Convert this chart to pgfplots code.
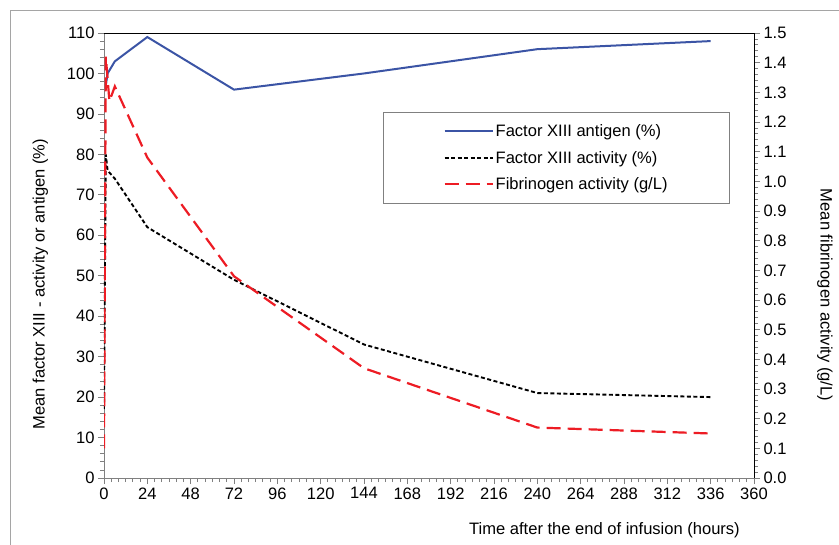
\documentclass[border=0pt]{standalone}
\usepackage{fontspec}
\setmainfont{Liberation Sans}
\usepackage{pgfplots}
\pgfplotsset{compat=1.18}
\usetikzlibrary{calc}

\definecolor{fxblue}{RGB}{59,84,165}
\definecolor{fibred}{RGB}{237,28,36}
\definecolor{axgray}{RGB}{128,128,128}
\definecolor{framegray}{RGB}{165,165,165}

% mean values
\pgfplotstableread{
t    antigen
1    97
2    100
6    103
24   109
72   96
144  100
240  106
336  108
}\antigen

\pgfplotstableread{
t    activity
0    17
1    80
2    76
6    74
24   62
72   49
144  33
240  21
336  20
}\activity

\pgfplotstableread{
t    fib
0    0.10
1    1.42
3    1.27
6    1.32
24   1.08
72   0.68
144  0.37
240  0.17
336  0.15
}\fibrinogen

\begin{document}
\begin{tikzpicture}[font=\fontsize{16.6}{19}\selectfont]
\pgfplotsset{
  common/.style={
    scale only axis, width=650bp, height=445bp,
    at={(0,0)}, anchor=south west,
    xmin=0, xmax=360,
    tick align=outside,
    major tick length=6bp, minor tick length=4bp,
    every tick/.style={axgray, line width=0.8bp},
    /pgf/number format/assume math mode=true,
    tick label style={font=\fontsize{16.6}{19}\selectfont},
    label style={font=\fontsize{16.6}{19}\selectfont},
  },
}
\begin{axis}[common, name=ax,
  ymin=0, ymax=110, ytick={0,10,...,110}, minor y tick num=4,
  xtick={0,24,...,360}, minor x tick num=5,
  xtick pos=bottom, ytick pos=left,
  axis line style={axgray, line width=0.8bp},
  xlabel={Time after the end of infusion (hours)},
  xlabel style={at={(axis description cs:0.77,-0.117)}, anchor=center},
  ylabel={Mean factor XIII - activity or antigen (\%)},
  ylabel style={at={(axis description cs:-0.098,0.436)}, anchor=center},
]
\addplot[fxblue, line width=2bp] table[x=t, y=antigen] {\antigen};
\addplot[black, line width=1.9bp, dash pattern=on 4bp off 2.5bp] table[x=t, y=activity] {\activity};
\end{axis}

\begin{axis}[common,
  axis x line=none, axis y line*=right,
  ymin=0, ymax=1.5,
  ytick={0,0.1,0.2,0.3,0.4,0.5,0.6,0.7,0.8,0.9,1.0,1.1,1.2,1.3,1.4,1.5},
  minor y tick num=4,
  yticklabel style={/pgf/number format/.cd, fixed, fixed zerofill, precision=1},
  y axis line style={black, line width=0.8bp},
  ylabel={Mean fibrinogen activity (g/L)},
  ylabel style={at={(axis description cs:1.109,0.411)}, anchor=center, rotate=180},
  legend style={at={(axis description cs:0.963,0.822)}, anchor=north east,
    draw=axgray, line width=0.8bp, inner xsep=60bp, inner ysep=10bp,
    row sep=9bp, font=\fontsize{16.6}{19}\selectfont},
  legend cell align=left,
  legend image code/.code={\draw[#1] (0bp,0bp) -- (48bp,0bp);},
]
\addlegendimage{fxblue, line width=2bp}
\addlegendentry{Factor XIII antigen (\%)}
\addlegendimage{black, line width=1.9bp, dash pattern=on 4bp off 2.5bp}
\addlegendentry{Factor XIII activity (\%)}
\addplot[fibred, line width=2.2bp, dash pattern=on 14bp off 7bp] table[x=t, y=fib] {\fibrinogen};
\addlegendentry{Fibrinogen activity (g/L)}
\end{axis}

\draw[black, line width=0.8bp] (ax.north west) -- (ax.north east);
\draw[framegray, line width=1bp]
  ($(ax.south west)+(-93bp,-90bp)$) -- ($(ax.south west)+(-93bp,467bp)$)
  -- ($(ax.south west)+(760bp,467bp)$);
\pgfresetboundingbox
\useasboundingbox ($(ax.south west)+(-104bp,-67bp)$) rectangle ($(ax.south west)+(735bp,478bp)$);
\end{tikzpicture}
\end{document}
